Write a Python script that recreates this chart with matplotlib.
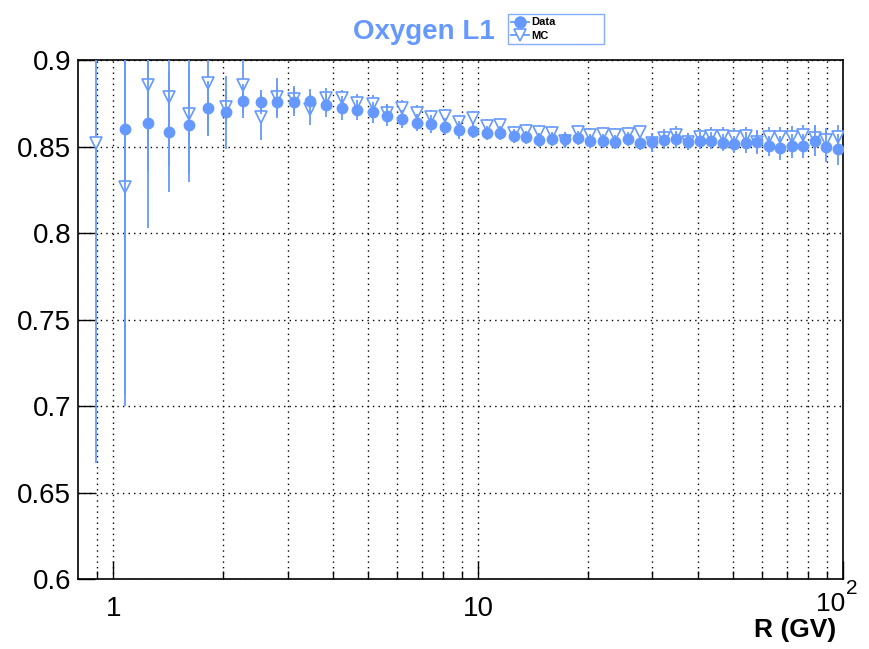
import numpy as np
import matplotlib
matplotlib.use("Agg")
import matplotlib.pyplot as plt
from matplotlib.lines import Line2D
from matplotlib.ticker import FixedLocator, FixedFormatter, NullFormatter

plt.rcParams['font.family'] = ['Liberation Sans', 'DejaVu Sans']

BLUE = '#6699ff'

# rigidity bin centres (GV)
r_mc = [0.894, 1.077, 1.242, 1.417, 1.607, 1.812, 2.032, 2.272, 2.531, 2.816,
        3.126, 3.461, 3.825, 4.220, 4.649, 5.129, 5.630, 6.178, 6.773, 7.418,
        8.107, 8.866, 9.671, 10.54, 11.49, 12.49, 13.54, 14.69, 15.94, 17.29,
        18.73, 20.28, 21.93, 23.73, 25.68, 27.73, 29.93, 32.28, 34.78, 37.47,
        40.37, 43.47, 46.77, 50.31, 54.12, 58.16, 62.51, 67.21, 72.25, 77.65,
        83.45, 89.69, 96.44]
r_data = r_mc[1:]

eff_data = [0.860, 0.864, 0.8587, 0.8626, 0.8722, 0.870, 0.8765, 0.8757, 0.8757, 0.876,
            0.8765, 0.874, 0.8726, 0.8712, 0.870, 0.868, 0.866, 0.8639, 0.8631, 0.8616,
            0.8597, 0.8592, 0.858, 0.8578, 0.8562, 0.8554, 0.8539, 0.8545, 0.8545, 0.8549,
            0.8533, 0.8534, 0.853, 0.8543, 0.8523, 0.8529, 0.8539, 0.8543, 0.8529, 0.8535,
            0.8535, 0.8523, 0.8514, 0.8523, 0.8529, 0.8504, 0.8491, 0.8504, 0.8504, 0.8535,
            0.850, 0.8485]
err_data = [0.16, 0.061, 0.035, 0.033, 0.016, 0.021, 0.010, 0.007, 0.009, 0.008,
            0.007, 0.007, 0.007, 0.006, 0.006, 0.006, 0.005, 0.005, 0.005, 0.005,
            0.005, 0.004, 0.004, 0.004, 0.004, 0.004, 0.004, 0.004, 0.004, 0.004,
            0.004, 0.004, 0.004, 0.004, 0.004, 0.005, 0.005, 0.005, 0.005, 0.005,
            0.005, 0.005, 0.005, 0.006, 0.007, 0.006, 0.007, 0.007, 0.007, 0.009,
            0.009, 0.009]

eff_mc = [0.852, 0.827, 0.886, 0.879, 0.869, 0.8867, 0.873, 0.8857, 0.8674, 0.879,
          0.8774, 0.8716, 0.878, 0.878, 0.8755, 0.875, 0.8695, 0.8722, 0.8693, 0.8674,
          0.8678, 0.8645, 0.8668, 0.862, 0.8626, 0.8578, 0.8593, 0.8587, 0.8578, 0.8535,
          0.8587, 0.8568, 0.8575, 0.8566, 0.8575, 0.8583, 0.852, 0.855, 0.8568, 0.853,
          0.8554, 0.8562, 0.8562, 0.8558, 0.8562, 0.853, 0.8554, 0.8554, 0.8558, 0.8568,
          0.855, 0.8539, 0.8554]
err_mc = [0.185, 0.12, 0.05, 0.04, 0.035, 0.03, 0.01, 0.016, 0.0135, 0.011,
          0.008, 0.009, 0.006, 0.005, 0.005, 0.005, 0.005, 0.005, 0.005, 0.004,
          0.004, 0.004, 0.004, 0.004, 0.004, 0.004, 0.004, 0.004, 0.004, 0.004,
          0.004, 0.004, 0.004, 0.004, 0.004, 0.004, 0.005, 0.005, 0.005, 0.005,
          0.005, 0.005, 0.005, 0.005, 0.005, 0.006, 0.006, 0.006, 0.006, 0.006,
          0.007, 0.007, 0.007]

x_major = [1, 10, 100]
x_minor = [0.9, 2, 3, 4, 5, 6, 7, 8, 9, 20, 30, 40, 50, 60, 70, 80, 90]
y_ticks = [0.6, 0.65, 0.7, 0.75, 0.8, 0.85, 0.9]

fig = plt.figure(figsize=(8.69, 6.49), dpi=100)
ax = fig.add_axes([0.0898, 0.1074, 0.8806, 0.7997])

ax.errorbar(r_mc, eff_mc, yerr=err_mc, fmt='v', color=BLUE, mfc='white',
            mec=BLUE, ms=8.5, mew=1.2, elinewidth=1.3, capsize=0, zorder=3)
ax.errorbar(r_data, eff_data, yerr=err_data, fmt='o', color=BLUE, ms=7.5,
            elinewidth=1.3, capsize=0, zorder=4)

ax.set_xscale('log')
ax.set_xlim(0.8, 100)
ax.set_ylim(0.6, 0.9)

ax.xaxis.set_major_locator(FixedLocator(x_major))
ax.xaxis.set_major_formatter(FixedFormatter(['1', '10', '']))
ax.xaxis.set_minor_locator(FixedLocator(x_minor))
ax.xaxis.set_minor_formatter(NullFormatter())
ax.set_yticks(y_ticks)
ax.set_yticklabels(['0.6', '0.65', '0.7', '0.75', '0.8', '0.85', '0.9'])

ax.tick_params(axis='both', which='major', direction='in', labelsize=20,
               color='black', width=1)
ax.tick_params(axis='x', which='major', length=13, pad=12)
ax.tick_params(axis='x', which='minor', direction='in', length=6, width=1)
ax.tick_params(axis='y', which='major', length=12, pad=5)

ax.grid(True, which='both', axis='x', color='black', linestyle=(0, (1, 3)), linewidth=1)
ax.grid(True, which='major', axis='y', color='black', linestyle=(0, (1, 3)), linewidth=1)
ax.set_axisbelow(True)
for s in ax.spines.values():
    s.set_linewidth(1.2)
    s.set_color('black')

# 10^2 label, ROOT style
ax.text(101, -0.047, '10', transform=ax.get_xaxis_transform(), ha='right',
        va='center', fontsize=19)
ax.text(102, -0.018, '2', transform=ax.get_xaxis_transform(), ha='left',
        va='center', fontsize=15)

fig.text(0.962, 0.030, 'R (GV)', ha='right', va='center', fontsize=19,
         fontweight='bold')
fig.text(0.488, 0.950, 'Oxygen L1', ha='center', va='center', fontsize=20,
         fontweight='bold', color=BLUE)

handles = [Line2D([], [], color=BLUE, marker='o', ms=8, lw=1.3),
           Line2D([], [], color=BLUE, marker='v', ms=9, mfc='white', mew=1.2, lw=1.3)]
leg = fig.legend(handles, ['Data', 'MC'], loc='lower left',
                 bbox_to_anchor=(0.5846, 0.932, 0.1104, 0.0493), mode='expand',
                 prop={'size': 8, 'weight': 'bold'}, frameon=True, fancybox=False,
                 borderpad=0.3, labelspacing=0.3, handlelength=1.6,
                 handletextpad=0.2, borderaxespad=0)
leg.get_frame().set_edgecolor(BLUE)
leg.get_frame().set_linewidth(1)

fig.savefig('out.png', dpi=100)
